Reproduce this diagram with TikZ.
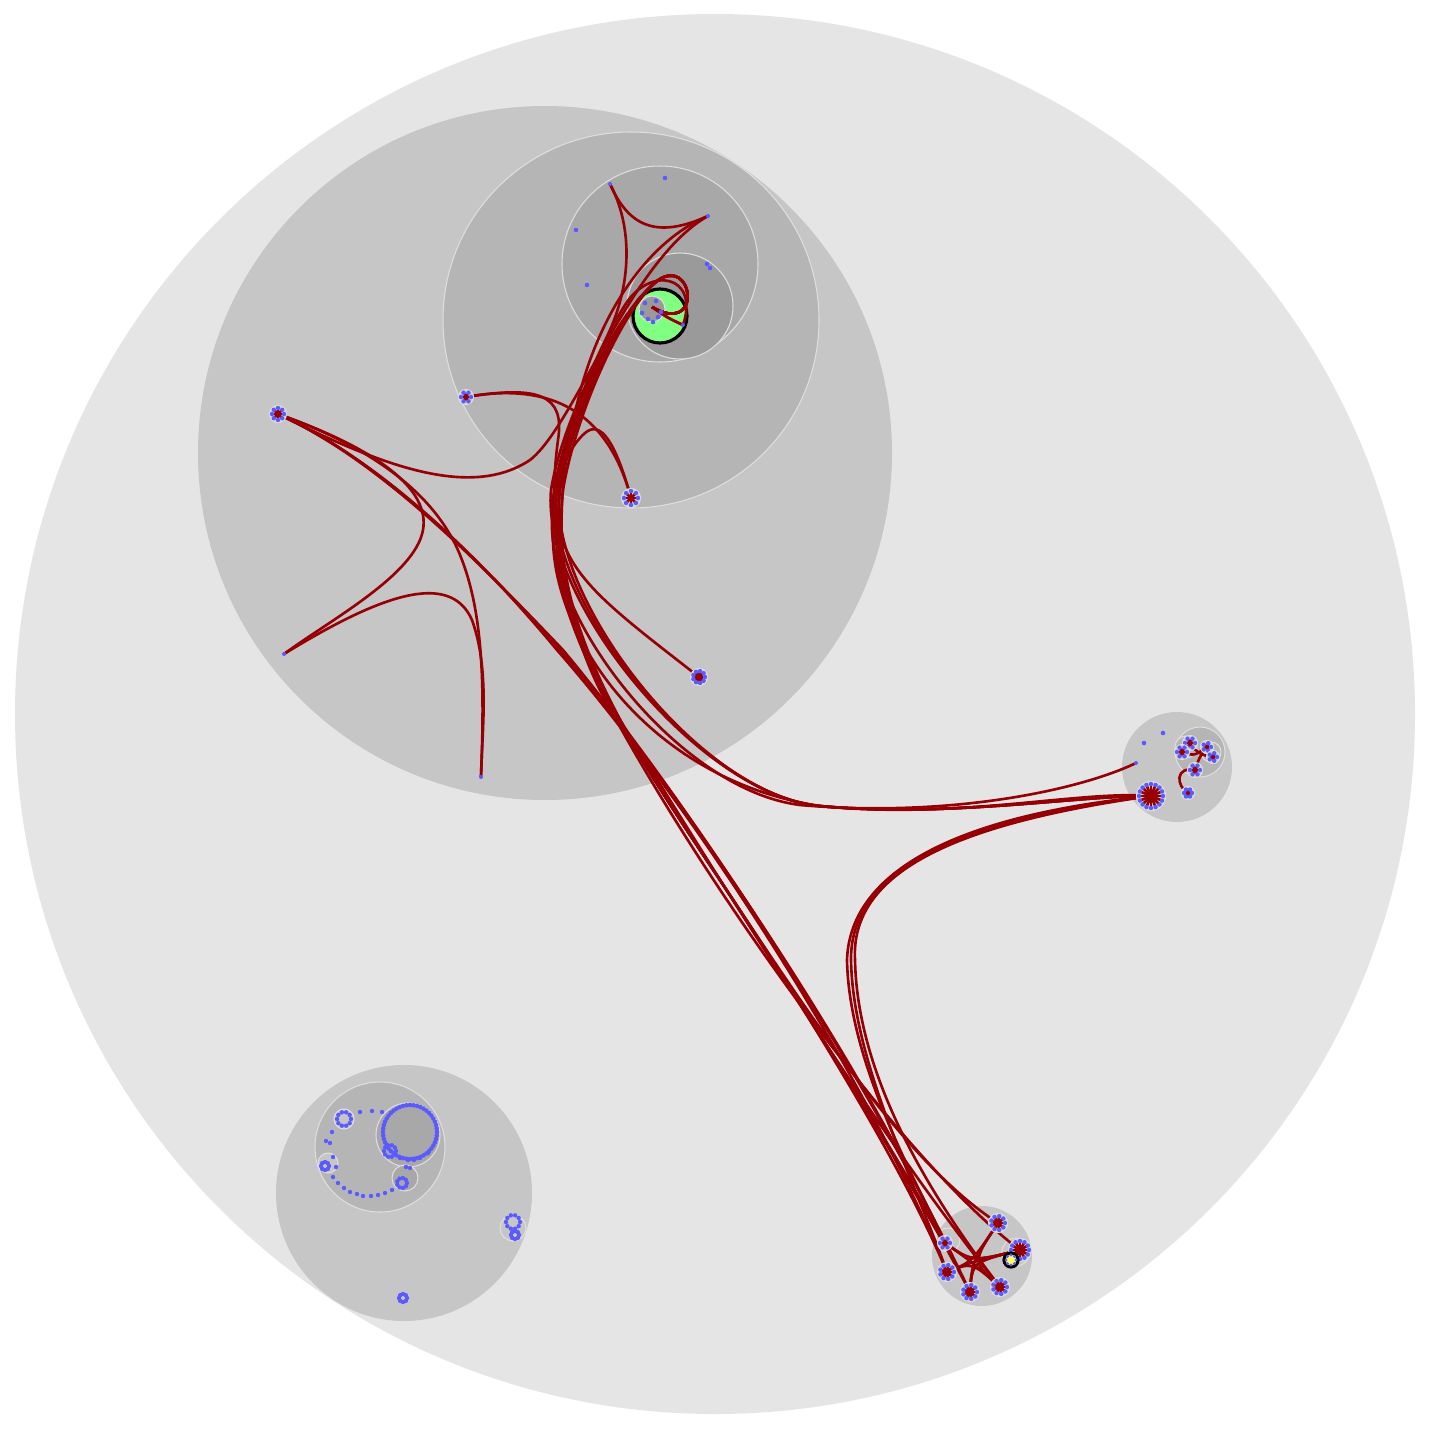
\documentclass[tikz,border=0pt]{standalone}
\usetikzlibrary{calc}
\definecolor{lvlA}{RGB}{229,229,229}
\definecolor{lvlB}{RGB}{198,198,198}
\definecolor{lvlC}{RGB}{181,181,181}
\definecolor{lvlD}{RGB}{168,168,168}
\definecolor{lvlE}{RGB}{154,154,154}
\definecolor{packline}{RGB}{222,222,222}
\definecolor{dotblue}{RGB}{90,90,255}
\definecolor{linkred}{RGB}{150,0,5}
\definecolor{hitgreen}{RGB}{128,255,128}
\definecolor{hityellow}{RGB}{255,255,100}

\begin{document}
\begin{tikzpicture}[x=0.1mm, y=-0.1mm,
  pack/.style={draw=packline, line width=0.3pt},
  leaf/.style={fill=dotblue},
  link/.style={draw=linkred, line width=0.75pt},
  hit/.style={draw=black, line width=0.9pt}
]
\fill[white] (0,0) rectangle (1430,1430);
\useasboundingbox (0,0) rectangle (1430,1430);

% packed circles
\fill[lvlA] (715,714) circle (700);
\fill[lvlB] (545,453) circle (347);
\filldraw[pack, fill=lvlC] (631,320) circle (188);
\filldraw[pack, fill=lvlD] (660,264) circle (98);
\filldraw[pack, fill=lvlE] (680,306) circle (53);
\filldraw[hit, fill=hitgreen] (660,316) circle (27);
\filldraw[pack, fill=lvlE] (652,309) circle (13);

\fill[lvlB] (1177,767) circle (55);
\filldraw[pack, fill=lvlC] (1200,752) circle (25);
\filldraw[pack, fill=lvlC] (1186,747) circle (11);
\filldraw[pack, fill=lvlC] (1211,752) circle (10);

\fill[lvlB] (982,1256) circle (50);
\filldraw[pack, fill=lvlB] (948,1240) circle (12);
\filldraw[pack, fill=lvlB] (1016,1252) circle (14);

\fill[lvlB] (404,1193) circle (128);
\filldraw[pack, fill=lvlC] (380,1147) circle (65);
\filldraw[pack, fill=lvlD] (408,1135) circle (32);
\filldraw[pack, fill=lvlD] (405,1178) circle (13);
\filldraw[pack, fill=lvlB] (328,1163) circle (10);
\filldraw[pack, fill=lvlB] (344,1119) circle (10);
\filldraw[pack, fill=lvlB] (513,1228) circle (13);

% leaves
\coordinate (lf) at (278,414);
\coordinate (mp) at (466,397);
\coordinate (lo) at (631,498);
\coordinate (rt) at (699,677);
\coordinate (sw) at (284,654);
\coordinate (so) at (481,777);
\coordinate (tl) at (610,184);
\coordinate (tr) at (708,216);
\coordinate (gr) at (652,307);
\coordinate (ge) at (683,325);
\coordinate (bs) at (1151,796);
\coordinate (bt) at (1136,763);
\coordinate (b1) at (1190,743);
\coordinate (b2) at (1182,752);
\coordinate (b3) at (1207,747);
\coordinate (b4) at (1213,757);
\coordinate (b5) at (1195,770);
\coordinate (b6) at (1188,793);
\coordinate (c1) at (998,1223);
\coordinate (c2) at (1020,1250);
\coordinate (c3) at (945,1243);
\coordinate (c4) at (947,1272);
\coordinate (c5) at (970,1292);
\coordinate (c6) at (1000,1287);
\coordinate (cy) at (1011,1260);

% links: top cluster through the trunk
\foreach \d in {-4,0,4}
  \draw[link] (gr) .. controls (700,335) and (695,265) .. (664,277)
    .. controls (635,288) and (570+\d,400) .. (555+\d,490)
    .. controls (545+\d,600) and (700,795) .. (820,806)
    .. controls (950,818) and (1080,795) .. (bs);
\foreach \d/\t in {-3/c3, 0/c4, 3/c1, 6/c5}
  \draw[link] (gr) .. controls (700,335) and (695,265) .. (664,277)
    .. controls (635,288) and (572+\d,400) .. (557+\d,490)
    .. controls (545+\d,600) and (600,700) .. (700,850)
    .. controls (800,1000) and (900,1160) .. (\t);
\draw[link] (tr) .. controls (650,240) and (600,310) .. (578,400)
  .. controls (560,470) and (545,580) .. (600,690)
  .. controls (700,880) and (900,1160) .. (c2);
\draw[link] (tl) .. controls (632,225) and (632,280) .. (610,330)
  .. controls (585,390) and (555,450) .. (552,520)
  .. controls (548,620) and (680,790) .. (800,805)
  .. controls (950,818) and (1080,790) .. (bt);
\draw[link] (tl) .. controls (628,225) and (655,240) .. (tr);
\draw[link] (lf) .. controls (380,465) and (470,500) .. (530,460)
  .. controls (575,425) and (630,260) .. (tr);
\draw[link] (rt) .. controls (620,615) and (570,580) .. (560,530)
  .. controls (552,460) and (590,360) .. (625,305)
  .. controls (650,265) and (700,275) .. (ge);

% links: left cluster
\foreach \d/\t in {-3/c4, 0/c3, 3/c5}
  \draw[link] (lf) .. controls (380,460) and (480,560+\d) .. (560+\d,650)
    .. controls (680,790) and (860,1060) .. (\t);
\draw[link] (lf) .. controls (380,450) and (430,490) .. (423,530)
  .. controls (415,575) and (330,620) .. (sw);
\draw[link] (sw) .. controls (380,595) and (450,570) .. (472,620)
  .. controls (490,670) and (482,730) .. (so);
\draw[link] (lf) .. controls (380,450) and (440,500) .. (462,560)
  .. controls (485,620) and (484,700) .. (so);

% links: middle cluster
\draw[link] (mp) .. controls (560,380) and (610,420) .. (lo);
\draw[link] (mp) .. controls (540,385) and (565,395) .. (558,440)
  .. controls (550,500) and (548,600) .. (620,720)
  .. controls (720,880) and (880,1140) .. (c6);
\draw[link] (lo) .. controls (615,440) and (600,420) .. (585,433)
  .. controls (560,455) and (552,500) .. (553,540)
  .. controls (555,640) and (650,780) .. (820,806)
  .. controls (960,820) and (1080,790) .. (bs);

% links: right and bottom clusters
\foreach \d/\t in {0/c3, 4/c4, 8/c6}
  \draw[link] (bs) .. controls (960,815+\d) and (850,870) .. (847+\d,960)
    .. controls (849+\d,1060) and (910,1170) .. (\t);
\draw[link] (b1) .. controls (1196,752) and (1200,755) .. (b4);
\draw[link] (b2) .. controls (1194,756) .. (b3);
\draw[link] (b5) .. controls (1199,758) .. (b3);
\draw[link] (b5) .. controls (1175,766) and (1176,786) .. (b6);
\foreach \s/\t in {c1/c4, c1/c5, c2/c4, c2/c5, c3/c6, c2/c3, c4/c6, c1/c6, c3/c2, c5/c2}
  \draw[link] (\s) .. controls (972,1262) .. (\t);
\foreach \s/\t in {gr/ge, gr/ge}
  \draw[link] (\s) .. controls (668,318) .. (\t);

% leaf rings
\foreach \p/\r/\n in {lf/6/8, mp/5/6, lo/7/8, rt/6/9, bs/12/16, b1/5/6, b2/5/6, b3/4/5, b4/4/5, b5/5/6, b6/4/6, c1/7/9, c2/9/12, c3/5/6, c4/7/9, c5/7/9, c6/7/9} {
  \draw[pack, fill=lvlB!85!white] (\p) circle (\r+2.5);
  \foreach \i in {1,...,\n} {
    \draw[link] (\p) -- ($(\p)+(\i*360/\n:\r)$);
    \fill[leaf] ($(\p)+(\i*360/\n:\r)$) circle (2.2);
  }
}
\foreach \p in {sw, so, tl, tr, ge, bt}
  \fill[leaf] (\p) circle (2);
\foreach \x/\y in {665/178, 576/230, 587/285, 707/264, 710/268, 1144/743, 1163/733,
  645/303, 642/313, 648/319, 656/301, 661/312, 653/322, 658/317}
  \fill[leaf] (\x,\y) circle (2.3);
\filldraw[hit, fill=hityellow] (cy) circle (7);
\foreach \i in {1,...,8}
  \fill[leaf] ($(cy)+(\i*45:5)$) circle (1.6);

% bottom left group
\foreach \i in {1,...,48}
  \fill[leaf] ($(410,1132)+(\i*7.5:27)$) circle (2.3);
\foreach \x/\y/\r/\n in {390/1151/6/10, 402/1183/5/9, 325/1166/4/8, 344/1119/7/10, 513/1222/7/10, 515/1235/4/8, 403/1298/4/8}
  \foreach \i in {1,...,\n}
    \fill[leaf] ($(\x,\y)+(\i*360/\n:\r)$) circle (2.2);
\foreach \x/\y in {333/1177, 338/1183, 344/1188, 350/1192, 357/1194, 363/1196, 371/1196,
  378/1195, 385/1193, 392/1190, 360/1112, 372/1111, 382/1112, 332/1132, 326/1141,
  330/1143, 333/1157, 336/1167, 406/1167, 410/1168, 400/1158, 408/1160, 414/1160,
  420/1158, 428/1153}
  \fill[leaf] (\x,\y) circle (2.2);
\end{tikzpicture}
\end{document}
